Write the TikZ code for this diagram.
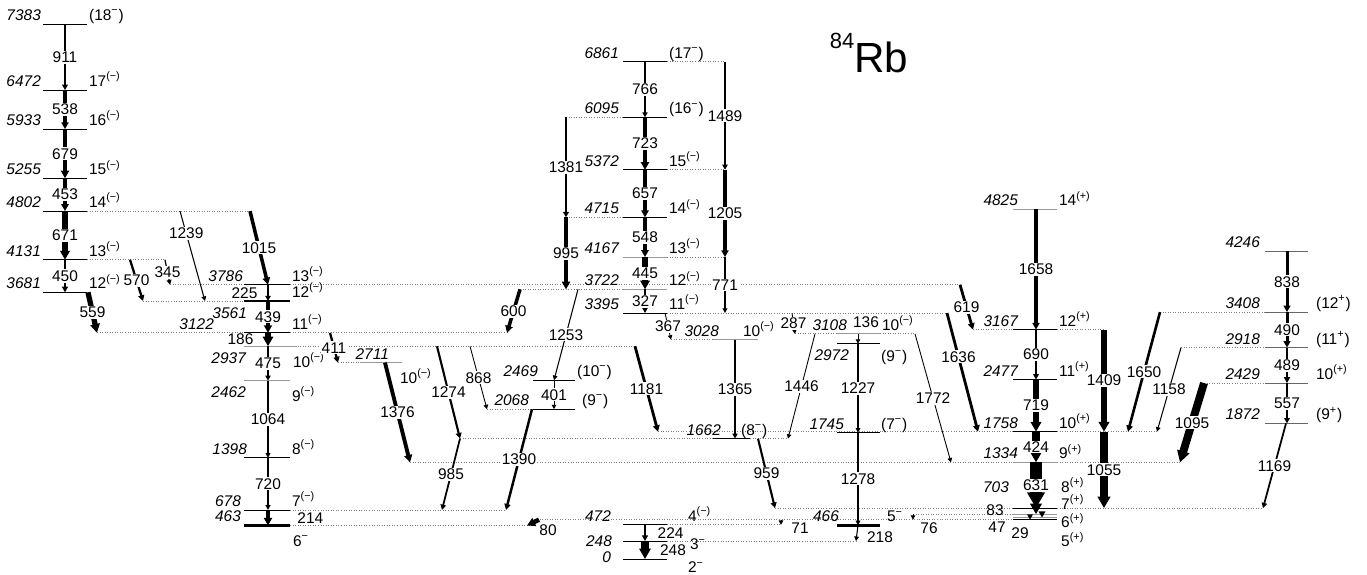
\documentclass[tikz,border=0pt]{standalone}
\usepackage{fontspec}
\setmainfont{Liberation Sans}
\usetikzlibrary{arrows.meta}

\begin{document}
\begin{tikzpicture}[
  x=0.02cm, y=0.0014492cm,   % x in pixels, y in keV
  font=\fontsize{8.8}{10}\selectfont,
  lvl/.style={line width=0.6pt},
  iso/.style={line width=1.8pt},
  ext/.style={draw=black!50, densely dotted, line width=0.45pt},
  gam/.style={line width=#1, -{Triangle[length=2pt 1, width=2pt 1.1]}},
  glab/.style={fill=white, inner sep=0.6pt},
  en/.style={font=\fontsize{8.8}{10}\selectfont\itshape, anchor=base east,
             inner sep=1pt, yshift=2pt},
  enb/.style={font=\fontsize{8.8}{10}\selectfont\itshape, anchor=north east,
              inner sep=1pt, yshift=-2.5pt},
  sp/.style={anchor=base west, inner sep=1pt, yshift=2pt},
  spb/.style={anchor=north west, inner sep=1pt, yshift=-2.5pt},
]
\def\Sm#1{#1\textsuperscript{(−)}}
\def\Sp#1{#1\textsuperscript{(+)}}
\def\Sx#1#2{(#1\textsuperscript{#2})}

\useasboundingbox (0,-207) rectangle (1367,7715);

% ---- Title ------------------------------------------------------------------
\node[anchor=base, inner sep=0pt, font=\fontsize{24}{28}\selectfont] (title) at (869,6721)
  {\raisebox{13.5pt}{\fontsize{12.5}{14}\selectfont 84}Rb};

% ---- Dotted extensions of the levels ------------------------------------------
\foreach \xa/\xb/\E in {87/250/4802, 87/165/4131, 170/244/3786, 290/960/3786,
    143/244/3561, 97/244/3122, 290/507/3122, 290/635/2937, 338/360/2711,
    520/623/3722, 566/623/6095, 566/623/4715, 667/725/6861, 667/725/5372,
    667/725/4167, 667/947/3395, 671/713/3028, 795/837/3108, 880/915/3108,
    487/533/2068, 658/1013/1758, 1057/1158/1758, 460/713/1662, 750/788/1662,
    410/1013/1334, 1057/1180/1334, 775/1013/703, 1057/1263/703, 290/506/678,
    537/1013/543, 913/1013/619, 667/781/472, 290/530/463, 667/856/248,
    973/1013/3167, 1057/1104/3167, 1160/1265/3408, 1181/1265/2918, 1204/1265/2429}
  \draw[ext] (\xa,\E) -- (\xb,\E);

% ---- Levels: band 1 (left) ----------------------------------------------------
\foreach \E/\J in {7383/{\Sx{18}{−}}, 6472/{\Sm{17}}, 5933/{\Sm{16}}, 5255/{\Sm{15}},
                   4802/{\Sm{14}}, 4131/{\Sm{13}}, 3681/{\Sm{12}}}{
  \draw[lvl] (43,\E) -- (87,\E);
  \node[en] at (43,\E) {\E};
  \node[sp] at (87,\E) {\J};
}

% ---- Levels: band 2 ---------------------------------------------------------------
\draw[lvl] (244,3786) -- (290,3786);
\node[en] at (245,3786) {3786};
\node[sp] at (290,3786) {\Sm{13}};
\draw[lvl] (244,3561) -- (290,3561);
\node[enb] at (249,3561) {3561};
\node[sp] at (290,3561) {\Sm{12}};
\draw[lvl] (244,3122) -- (290,3122);
\node[en] at (216,3122) {3122};
\node[sp] at (290,3122) {\Sm{11}};
\draw[lvl, draw=black!40] (244,2937) -- (297,2937);
\node[enb] at (248,2937) {2937};
\node[spb] at (291,2937) {\Sm{10}};
\draw[lvl, draw=black!40] (244,2462) -- (290,2462);
\node[enb] at (248,2462) {2462};
\node[spb] at (290,2462) {\Sm{9}};
\draw[lvl] (244,1398) -- (290,1398);
\node[en] at (249,1398) {1398};
\node[sp] at (290,1398) {\Sm{8}};
\draw[line width=0.4pt] (244,678) -- (290,678);
\node[en] at (243,678) {678};
\node[sp] at (290,678) {\Sm{7}};
\draw[iso] (244,463) -- (290,463);
\node[en] at (243,463) {463};
\node[spb, yshift=-2pt] at (291,463) {6\textsuperscript{−}};

% ---- Levels: band 3 (middle) --------------------------------------------------
\foreach \E/\J/\c in {6861/{\Sx{17}{−}}/black, 6095/{\Sx{16}{−}}/black,
    5372/{\Sm{15}}/black, 4715/{\Sm{14}}/black, 4167/{\Sm{13}}/black!40,
    3722/{\Sm{12}}/black!40, 3395/{\Sm{11}}/black}{
  \draw[lvl, draw=\c] (623,\E) -- (667,\E);
  \node[en] at (621,\E) {\E};
  \node[sp] at (667,\E) {\J};
}

% ---- Levels: side structures ----------------------------------------------------
\draw[lvl, draw=black!40] (360,2711) -- (402,2711);
\node[en] at (391,2711) {2711};
\node[spb] at (398,2711) {\Sm{10}};
\draw[lvl] (533,2469) -- (575,2469);
\node[en] at (540,2469) {2469};
\node[sp] at (575,2469) {\Sx{10}{−}};
\draw[lvl] (533,2068) -- (575,2068);
\node[en] at (531,2068) {2068};
\node[sp] at (580,2068) {\Sx{9}{−}};
\draw[lvl, draw=black!40] (713,3028) -- (758,3028);
\node[en] at (721,3028) {3028};
\node[sp] at (741,3028) {\Sm{10}};
\draw[lvl] (713,1662) -- (750,1662);
\node[en] at (723,1662) {1662};
\node[sp] at (739,1662) {\Sx{8}{−}};
\draw[lvl, draw=black!40] (837,3108) -- (880,3108);
\node[en] at (849,3108) {3108};
\node[sp] at (880,3108) {\Sm{10}};
\draw[lvl] (837,2972) -- (880,2972);
\node[enb] at (851,2972) {2972};
\node[spb] at (879,2972) {\Sx{9}{−}};
\draw[lvl] (837,1745) -- (880,1745);
\node[en] at (846,1745) {1745};
\node[sp] at (879,1745) {\Sx{7}{−}};
\draw[iso] (837,466) -- (880,466);
\node[en] at (841,466) {466};
\node[sp] at (885,466) {5\textsuperscript{−}};

% ---- Levels: ground state region ------------------------------------------------
\draw[lvl] (623,472) -- (667,472);
\node[en] at (613,472) {472};
\node[sp] at (686,472) {\Sm{4}};
\draw[lvl] (623,248) -- (667,248);
\node[en, anchor=east, yshift=-2pt] at (614,248) {248};
\node[anchor=west, inner sep=1pt, yshift=-2pt] at (688,248) {3\textsuperscript{−}};
\draw[lvl] (623,0) -- (667,0);
\node[en, anchor=east, yshift=-1pt] at (613,0) {0};
\node[spb, yshift=2pt] at (686,0) {2\textsuperscript{−}};

% ---- Levels: positive-parity band -------------------------------------------------
\foreach \E/\J/\c in {4825/{\Sp{14}}/black!40, 3167/{\Sp{12}}/black,
    2477/{\Sp{11}}/black, 1758/{\Sp{10}}/black, 1334/{\Sp{9}}/black!40}{
  \draw[lvl, draw=\c] (1013,\E) -- (1057,\E);
  \node[en] at (1020,\E) {\E};
  \node[sp] at (1057,\E) {\J};
}
\draw[lvl] (1013,703) -- (1057,703);
\draw[lvl, draw=black!40] (1013,619) -- (1057,619);
\draw[lvl, draw=black!40] (1013,572) -- (1057,572);
\draw[lvl] (1013,543) -- (1057,543);
\node[en, yshift=0pt] at (1011,876) {703};
\foreach \E/\J in {920/8, 690/7, 430/6, 170/5}
  \node[anchor=base west, inner sep=0.5pt] at (1060,\E) {\Sp{\J}};

% ---- Levels: right band -----------------------------------------------------------
\foreach \E/\J in {4246/{}, 3408/{\Sx{12}{+}}, 2918/{\Sx{11}{+}},
                   2429/{\Sp{10}}, 1872/{\Sx{9}{+}}}{
  \draw[lvl, draw=black!60] (1265,\E) -- (1308,\E);
  \node[en] at (1262,\E) {\E};
  \node[sp] at (1314,\E) {\J};
}

% ---- Gamma rays: band 1 ---------------------------------------------------------------
\foreach \Ea/\Eb/\w/\g in {7383/6472/1.1pt/911, 6472/5933/1.8pt/538,
    5933/5255/2.3pt/679, 5255/4802/2pt/453, 4802/4131/3pt/671, 4131/3681/1.2pt/450}
  \draw[gam=\w] (65,\Ea) -- node[glab]{\g} (65,\Eb);

% ---- Gamma rays: band 2 ---------------------------------------------------------------
\draw[gam=0.9pt] (268,3786) -- node[glab, left=5pt]{225} (268,3561);
\draw[gam=2.3pt] (268,3561) -- node[glab]{439} (268,3122);
\draw[gam=3.4pt] (268,3122) -- node[glab, left=6pt]{186} (268,2937);
\foreach \Ea/\Eb/\w/\g in {2937/2462/0.9pt/475, 2462/1398/0.7pt/1064, 1398/678/0.7pt/720}
  \draw[gam=\w] (268,\Ea) -- node[glab]{\g} (268,\Eb);
\draw[gam=2.3pt] (268,678) -- node[glab, right=15pt]{214} (268,463);

% ---- Gamma rays: linking transitions (left) ----------------------------------------
\draw[gam=3pt] (88,3681) -- node[glab]{559} (97,3122);
\draw[gam=1.3pt] (130,4131) -- node[glab]{570} (143,3561);
\draw[gam=0.7pt] (165,4131) -- node[glab]{345} (170,3786);
\draw[gam=0.6pt] (180,4802) -- node[glab, pos=0.25]{1239} (205,3561);
\draw[gam=2pt] (250,4802) -- node[glab]{1015} (268,3786);
\draw[gam=1.3pt] (330,3122) -- node[glab]{411} (338,2711);
\draw[gam=2.2pt] (385,2711) -- node[glab]{1376} (410,1334);
\draw[gam=1.2pt] (437,2937) -- node[glab]{1274} (460,1662);
\draw[gam=0.5pt] (470,2937) -- node[glab]{868} (487,2068);
\draw[gam=1pt] (460,1662) -- node[glab]{985} (442,678);
\draw[gam=1.4pt] (532,2068) -- node[glab]{1390} (506,678);
\draw[gam=2pt] (520,3722) -- node[glab]{600} (507,3122);
\draw[gam=0.6pt] (578,3722) -- node[glab]{1253} (554,2469);
\draw[gam=0.5pt] (554,2469) -- node[glab]{401} (554,2068);
\draw[gam=1.6pt] (635,2937) -- node[glab]{1181} (658,1758);

% ---- Gamma rays: band 3 ---------------------------------------------------------------
\draw[gam=1.1pt] (566,6095) -- node[glab]{1381} (566,4715);
\draw[gam=2.4pt] (566,4715) -- node[glab]{995} (566,3722);
\foreach \Ea/\Eb/\w/\g in {6861/6095/0.8pt/766, 6095/5372/2.4pt/723, 5372/4715/2pt/657,
    4715/4167/2pt/548, 4167/3722/3pt/445, 3722/3395/1pt/327}
  \draw[gam=\w] (645,\Ea) -- node[glab]{\g} (645,\Eb);
\foreach \Ea/\Eb/\w/\g in {6861/5372/1pt/1489, 5372/4167/1.8pt/1205, 4167/3395/0.7pt/771}
  \draw[gam=\w] (725,\Ea) -- node[glab]{\g} (725,\Eb);
\draw[gam=0.5pt] (665,3395) -- node[glab]{367} (671,3028);
\draw[gam=0.5pt] (792,3395) -- node[glab]{287} (795,3108);
\draw[gam=0.8pt] (735,3028) -- node[glab]{1365} (735,1662);
\draw[gam=1.2pt] (758,1662) -- node[glab]{959} (775,703);

% ---- Gamma rays: 10(-) at 3108 and below --------------------------------------------
\draw[gam=0.5pt] (858,3108) -- (858,2972);
\node[inner sep=0.6pt] at (866,3271) {136};
\draw[gam=0.6pt] (858,2972) -- node[glab]{1227} (858,1745);
\draw[gam=0.6pt] (858,1745) -- node[glab]{1278} (858,466);
\draw[gam=0.6pt] (858,466) -- (856,248);
\node[inner sep=0.6pt] at (880,304) {218};
\draw[gam=0.5pt] (815,3108) -- node[glab]{1446} (788,1662);
\draw[gam=0.5pt] (915,3108) -- node[glab]{1772} (951,1334);
\draw[gam=1.6pt] (947,3395) -- node[glab, pos=0.37]{1636} (978,1758);
\draw[gam=1.6pt] (960,3786) -- node[glab]{619} (973,3167);

% ---- Gamma rays: ground state region -------------------------------------------------
\draw[gam=1.2pt] (645,472) -- node[glab, right=6pt]{224} (645,248);
\draw[gam=4pt] (645,248) -- node[glab, right=6pt]{248} (645,0);
\draw[gam=2.6pt] (539,543) -- (527,463);
\node[anchor=base, inner sep=0.6pt] at (548,324) {80};
\draw[gam=0.5pt] (781,543) -- (781,472);
\node[anchor=base, inner sep=0.6pt] at (800,352) {71};
\draw[gam=0.5pt] (913,619) -- (913,543);
\node[anchor=base, inner sep=0.6pt] at (929,352) {76};

% ---- Gamma rays: positive-parity band -------------------------------------------------
\foreach \Ea/\Eb/\w/\g in {4825/3167/1.8pt/1658, 3167/2477/1.1pt/690, 2477/1758/3.6pt/719,
    1758/1334/4pt/424, 1334/703/7pt/631}
  \draw[gam=\w] (1036,\Ea) -- node[glab]{\g} (1036,\Eb);
\draw[gam=4pt] (1036,703) -- (1036,619);
\draw[gam=1.5pt] (1042,619) -- (1042,572);
\draw[gam=1pt] (1030,572) -- (1030,543);
\node[anchor=base, inner sep=0.6pt] at (995,600) {83};
\node[anchor=base, inner sep=0.6pt] at (997,366) {47};
\node[anchor=base, inner sep=0.6pt] at (1020,283) {29};
\draw[gam=3.6pt] (1104,3167) -- node[glab]{1409} (1104,1758);
\draw[gam=4.5pt] (1104,1758) -- node[glab]{1055} (1104,703);
\draw[gam=1.5pt] (1160,3408) -- node[glab]{1650} (1128,1758);
\draw[gam=0.6pt] (1181,2918) -- node[glab]{1158} (1157,1758);
\draw[gam=4.5pt] (1204,2429) -- node[glab]{1095} (1180,1334);
\draw[gam=1pt] (1286,1872) -- node[glab]{1169} (1263,703);

% ---- Gamma rays: right band -------------------------------------------------------------
\foreach \Ea/\Eb/\w/\g in {4246/3408/1.7pt/838, 3408/2918/1.7pt/490,
    2918/2429/1.3pt/489, 2429/1872/1pt/557}
  \draw[gam=\w] (1287,\Ea) -- node[glab]{\g} (1287,\Eb);

\end{tikzpicture}
\end{document}
